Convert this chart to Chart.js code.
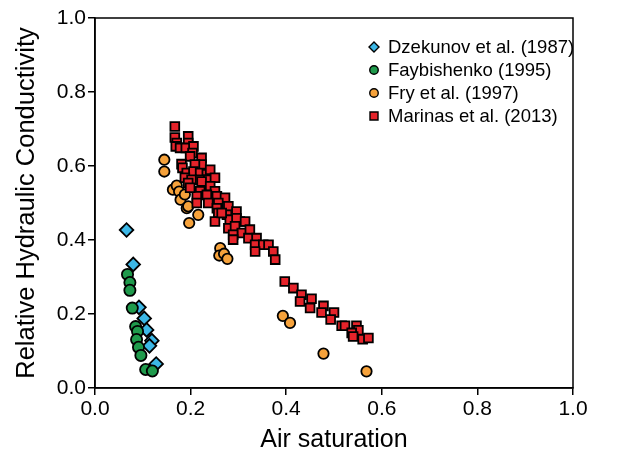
<!DOCTYPE html>
<html>
<head>
<meta charset="utf-8">
<script src="https://cdn.jsdelivr.net/npm/chart.js@4.4.0/dist/chart.umd.min.js"></script>
<style>
  html, body { margin: 0; padding: 0; background: #fff; }
</style>
</head>
<body>
<canvas id="chart" width="623" height="458"></canvas>
<script>
// values
const seriesLabels = ['Dzekunov et al. (1987)', 'Faybishenko (1995)', 'Fry et al. (1997)', 'Marinas et al. (2013)'];
const axisTicks = [0.0, 0.2, 0.4, 0.6, 0.8, 1.0];

const dzekunovX = [0.066, 0.080, 0.092, 0.103, 0.108, 0.119, 0.114, 0.128];
const dzekunovY = [0.427, 0.334, 0.218, 0.188, 0.157, 0.128, 0.114, 0.065];

const faybishenkoX = [0.068, 0.073, 0.073, 0.078, 0.085, 0.089, 0.087, 0.091, 0.096, 0.106, 0.120];
const faybishenkoY = [0.307, 0.285, 0.264, 0.216, 0.166, 0.153, 0.131, 0.110, 0.088, 0.050, 0.046];

const fryX = [0.145, 0.145, 0.163, 0.171, 0.176, 0.179, 0.188, 0.192, 0.195, 0.216, 0.197,
              0.262, 0.260, 0.270, 0.277, 0.393, 0.408, 0.478, 0.568];
const fryY = [0.617, 0.585, 0.536, 0.547, 0.531, 0.509, 0.523, 0.486, 0.491, 0.468, 0.446,
              0.378, 0.358, 0.363, 0.349, 0.195, 0.176, 0.093, 0.045];

const marinasX = [0.167, 0.167, 0.171, 0.169, 0.178, 0.195, 0.195, 0.190, 0.206, 0.204, 0.199,
                  0.223, 0.223, 0.209, 0.181, 0.183, 0.192, 0.206, 0.220, 0.234, 0.241,
                  0.188, 0.202, 0.220, 0.237, 0.251, 0.195, 0.223, 0.241, 0.220, 0.251,
                  0.213, 0.234, 0.255, 0.272, 0.237, 0.258, 0.213, 0.255, 0.279, 0.258,
                  0.276, 0.296, 0.251, 0.282, 0.303, 0.199, 0.265, 0.296, 0.314, 0.279,
                  0.293, 0.307, 0.324, 0.289, 0.289, 0.321, 0.338, 0.335, 0.352, 0.363,
                  0.335, 0.373, 0.377,
                  0.397, 0.415, 0.432, 0.429, 0.453, 0.450, 0.478, 0.474, 0.500, 0.493,
                  0.516, 0.523, 0.547, 0.551, 0.537, 0.540, 0.560, 0.572];
const marinasY = [0.707, 0.677, 0.662, 0.653, 0.649, 0.680, 0.662, 0.649, 0.653, 0.635, 0.626,
                  0.622, 0.604, 0.604, 0.605, 0.595, 0.581, 0.585, 0.581, 0.578, 0.590,
                  0.568, 0.563, 0.563, 0.563, 0.568, 0.554, 0.558, 0.545, 0.532, 0.532,
                  0.518, 0.522, 0.518, 0.514, 0.500, 0.500, 0.500, 0.486, 0.491, 0.473,
                  0.468, 0.477, 0.450, 0.455, 0.450, 0.541, 0.473, 0.459, 0.450, 0.432,
                  0.437, 0.419, 0.428, 0.414, 0.401, 0.405, 0.405, 0.387, 0.387, 0.387,
                  0.369, 0.369, 0.347,
                  0.288, 0.270, 0.252, 0.234, 0.241, 0.216, 0.222, 0.204, 0.204, 0.185,
                  0.168, 0.168, 0.168, 0.156, 0.149, 0.139, 0.132, 0.135];

function pairs(xs, ys) {
    return xs.map((x, i) => ({x: x, y: ys[i]}));
}

const FONT = '"Liberation Sans", Arial, Helvetica, sans-serif';

// small markers for the legend that sits inside the plot
function drawMarker(ctx, style, x, y, r, fill) {
    ctx.beginPath();
    if (style === 'rectRot') {
        ctx.moveTo(x, y - r); ctx.lineTo(x + r, y); ctx.lineTo(x, y + r); ctx.lineTo(x - r, y);
        ctx.closePath();
    } else if (style === 'rect') {
        const s = r * 0.8;
        ctx.rect(x - s, y - s, 2 * s, 2 * s);
    } else {
        ctx.arc(x, y, r * 0.85, 0, Math.PI * 2);
    }
    ctx.fillStyle = fill;
    ctx.fill();
    ctx.lineWidth = 1.4;
    ctx.strokeStyle = '#000';
    ctx.stroke();
}

const insideLegend = {
    id: 'insideLegend',
    afterDraw(chart) {
        const ctx = chart.ctx;
        const a = chart.chartArea;
        ctx.save();
        ctx.font = '18.5px ' + FONT;
        ctx.textBaseline = 'middle';
        ctx.textAlign = 'left';
        chart.data.datasets.forEach((ds, i) => {
            const y = a.top + 29 + i * 23;
            const x = a.left + 279;
            drawMarker(ctx, ds.pointStyle, x, y, 5, ds.backgroundColor);
            ctx.fillStyle = '#000';
            ctx.fillText(ds.label, x + 14, y + 1);
        });
        ctx.restore();
    }
};

// closes the box on the top and right side
const frame = {
    id: 'frame',
    afterDraw(chart) {
        const a = chart.chartArea;
        const ctx = chart.ctx;
        ctx.save();
        ctx.strokeStyle = '#000';
        ctx.lineWidth = 1.5;
        ctx.strokeRect(a.left, a.top, a.right - a.left, a.bottom - a.top);
        ctx.restore();
    }
};

const pointBase = {borderColor: '#000', pointBorderWidth: 1.8, showLine: false};

new Chart(document.getElementById('chart').getContext('2d'), {
    type: 'scatter',
    data: {
        datasets: [
            Object.assign({
                label: seriesLabels[0], data: pairs(dzekunovX, dzekunovY),
                pointStyle: 'rectRot', backgroundColor: '#3cb7e6', pointRadius: 6.8, order: 4
            }, pointBase),
            Object.assign({
                label: seriesLabels[1], data: pairs(faybishenkoX, faybishenkoY),
                pointStyle: 'circle', backgroundColor: '#1f9a4c', pointRadius: 5.6, order: 3
            }, pointBase),
            Object.assign({
                label: seriesLabels[2], data: pairs(fryX, fryY),
                pointStyle: 'circle', backgroundColor: '#f6a23b', pointRadius: 5.2, order: 2
            }, pointBase),
            Object.assign({
                label: seriesLabels[3], data: pairs(marinasX, marinasY),
                pointStyle: 'rect', backgroundColor: '#e5232a', pointRadius: 6.2, order: 1
            }, pointBase)
        ]
    },
    options: {
        responsive: false,
        animation: false,
        layout: {padding: {top: 18, right: 50, left: 0, bottom: 0}},
        plugins: {
            legend: {display: false},
            tooltip: {enabled: false}
        },
        scales: {
            x: {
                type: 'linear', min: 0, max: 1,
                afterFit: s => { s.height = 70; },
                afterBuildTicks: s => { s.ticks = axisTicks.map(v => ({value: v})); },
                grid: {drawOnChartArea: false, drawTicks: true, tickLength: 7, color: '#000', lineWidth: 1.5},
                border: {display: true, color: '#000', width: 1.5},
                ticks: {color: '#000', font: {family: FONT, size: 21}, padding: 2,
                        maxRotation: 0, callback: v => v.toFixed(1)},
                title: {display: true, text: 'Air saturation', color: '#000',
                        font: {family: FONT, size: 25}, padding: {top: 0, bottom: 3}}
            },
            y: {
                type: 'linear', min: 0, max: 1,
                afterFit: s => { s.width = 95; },
                afterBuildTicks: s => { s.ticks = axisTicks.map(v => ({value: v})); },
                grid: {drawOnChartArea: false, drawTicks: true, tickLength: 7, color: '#000', lineWidth: 1.5},
                border: {display: true, color: '#000', width: 1.5},
                ticks: {color: '#000', font: {family: FONT, size: 21}, padding: 2,
                        callback: v => v.toFixed(1)},
                title: {display: true, text: 'Relative Hydraulic Conductivity', color: '#000',
                        font: {family: FONT, size: 25.5}, padding: {top: 12, bottom: 0}}
            }
        }
    },
    plugins: [insideLegend, frame]
});
</script>
</body>
</html>
